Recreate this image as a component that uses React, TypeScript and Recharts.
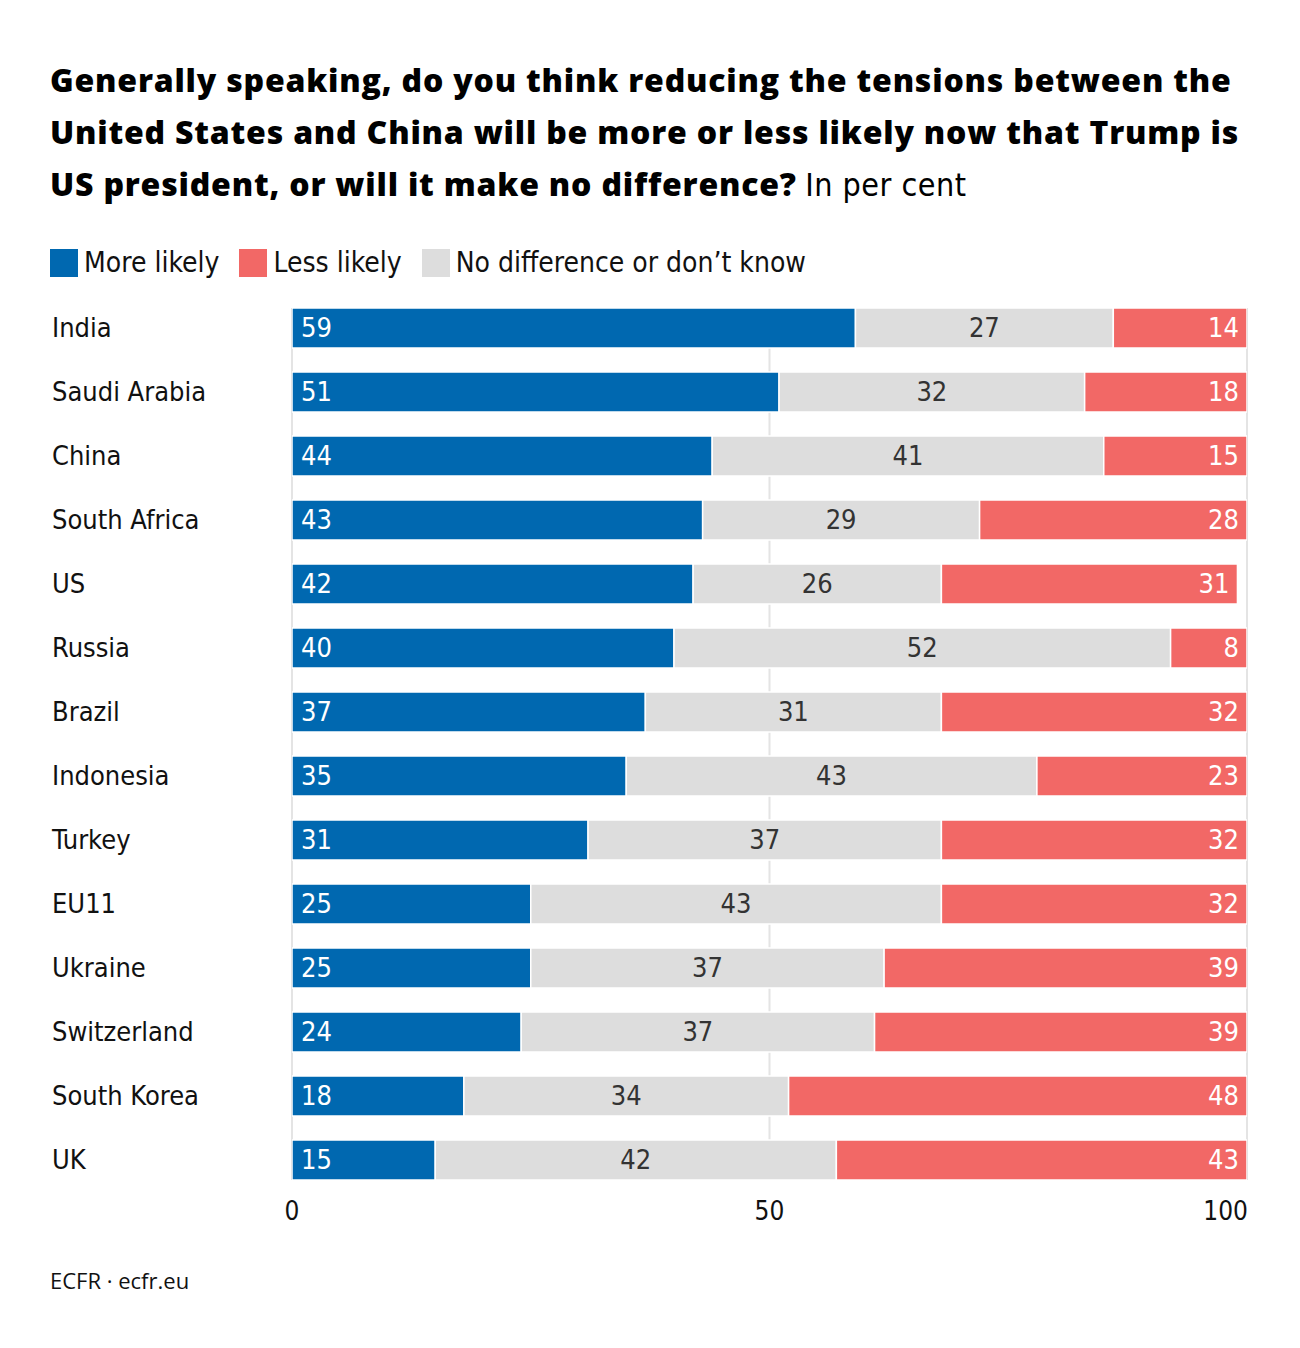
import React from 'react'
import { BarChart, Bar, XAxis, YAxis, CartesianGrid, LabelList } from 'recharts'

const countries = [
  'India', 'Saudi Arabia', 'China', 'South Africa', 'US', 'Russia', 'Brazil',
  'Indonesia', 'Turkey', 'EU11', 'Ukraine', 'Switzerland', 'South Korea', 'UK',
]
const moreLikely = [59, 51, 44, 43, 42, 40, 37, 35, 31, 25, 25, 24, 18, 15]
const noDifference = [27, 32, 41, 29, 26, 52, 31, 43, 37, 43, 37, 37, 34, 42]
const lessLikely = [14, 18, 15, 28, 31, 8, 32, 23, 32, 32, 39, 39, 48, 43]
const xTicks = [0, 50, 100]

const BLUE = '#0068b0'
const RED = '#f26866'
const GREY = '#dddddd'
const NARROW = '"DejaVu Sans Condensed", "Liberation Sans Narrow", sans-serif'

const data = countries.map((c, i) => ({
  country: c,
  more: moreLikely[i],
  none: noDifference[i],
  less: lessLikely[i],
}))

const legendItems = [
  { label: 'More likely', color: BLUE },
  { label: 'Less likely', color: RED },
  { label: 'No difference or don’t know', color: GREY },
]

function CountryTick(props: any) {
  const { y, payload } = props
  return (
    <text x={52} y={y} dy={9} textAnchor="start" fontSize={27} fontFamily={NARROW} fill="#111">
      {payload.value}
    </text>
  )
}

function ValueTick(props: any) {
  const { x, y, payload } = props
  const anchor = payload.value === 100 ? 'end' : 'middle'
  return (
    <text x={payload.value === 100 ? x + 1 : x} y={y} dy={20} textAnchor={anchor} fontSize={26} fontFamily={NARROW} fill="#111">
      {payload.value}
    </text>
  )
}

const makeLabel = (pos: 'left' | 'center' | 'right', color: string) => (props: any) => {
  const { x, y, width, height, value } = props
  let tx = x + width / 2
  let anchor = 'middle'
  if (pos === 'left') { tx = x + 9; anchor = 'start' }
  if (pos === 'right') { tx = x + width - 8; anchor = 'end' }
  return (
    <text x={tx} y={y + height / 2} dy={9} textAnchor={anchor} fontSize={27} fontFamily={NARROW} fill={color}>
      {value}
    </text>
  )
}

export default function App() {
  return (
    <div style={{ position: 'absolute', left: 0, top: 0, width: 1300, height: 1348, background: '#fff' }}>
      <div
        style={{
          position: 'absolute', left: 50, top: 54, width: 1245,
          fontFamily: '"Open Sans", sans-serif', fontSize: 32, lineHeight: '52px', color: '#000',
        }}
      >
        <span style={{ fontWeight: 800, letterSpacing: 0.8 }}>
          Generally speaking, do you think reducing the tensions between the<br />
          United States and China will be more or less likely now that Trump is<br />
          US president, or will it make no difference?
        </span>{' '}
        <span style={{ fontFamily: NARROW, fontWeight: 400, fontSize: 32, letterSpacing: 0.5 }}>In per cent</span>
      </div>

      <div style={{ position: 'absolute', left: 50, top: 246, display: 'flex', alignItems: 'center', fontFamily: NARROW, fontSize: 28, color: '#111' }}>
        {legendItems.map(item => (
          <div key={item.label} style={{ display: 'flex', alignItems: 'center', marginRight: 20 }}>
            <span style={{ display: 'inline-block', width: 28, height: 28, background: item.color, marginRight: 6 }} />
            <span>{item.label}</span>
          </div>
        ))}
      </div>

      <div style={{ position: 'absolute', left: 0, top: 0 }}>
        <BarChart
          width={1300}
          height={1260}
          data={data}
          layout="vertical"
          margin={{ top: 296, right: 53, bottom: 28, left: 0 }}
          barSize={40}
        >
          <CartesianGrid horizontal={false} stroke="#e4e4e4" strokeWidth={2} y={308} height={872} />
          <XAxis
            type="number"
            domain={[0, 100]}
            ticks={xTicks}
            allowDataOverflow
            axisLine={false}
            tickLine={false}
            tick={<ValueTick />}
            height={40}
          />
          <YAxis
            type="category"
            dataKey="country"
            width={292}
            axisLine={false}
            tickLine={false}
            tick={<CountryTick />}
            interval={0}
          />
          <Bar dataKey="more" stackId="a" fill={BLUE} stroke="#fff" strokeWidth={1.5} isAnimationActive={false}>
            <LabelList dataKey="more" content={makeLabel('left', '#fff')} />
          </Bar>
          <Bar dataKey="none" stackId="a" fill={GREY} stroke="#fff" strokeWidth={1.5} isAnimationActive={false}>
            <LabelList dataKey="none" content={makeLabel('center', '#333')} />
          </Bar>
          <Bar dataKey="less" stackId="a" fill={RED} stroke="#fff" strokeWidth={1.5} isAnimationActive={false}>
            <LabelList dataKey="less" content={makeLabel('right', '#fff')} />
          </Bar>
        </BarChart>
      </div>

      <div style={{ position: 'absolute', left: 50, top: 1265, fontFamily: '"Open Sans", sans-serif', fontSize: 22, color: '#111' }}>
        ECFR · ecfr.eu
      </div>
    </div>
  )
}
